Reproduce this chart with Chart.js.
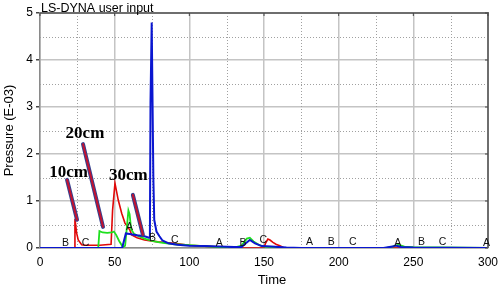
<!DOCTYPE html>
<html>
<head>
<meta charset="utf-8">
<script src="https://cdn.jsdelivr.net/npm/chart.js@4"></script>
<style>
  body { margin: 0; background: #fff; }
  #wrap { width: 498px; height: 285px; position: relative; }
</style>
</head>
<body>
<div id="wrap"><canvas id="pressureChart"></canvas></div>
<script>
// series (time, pressure E-03)
const redTime  = [0, 23, 23.4, 24.5, 25.6, 27.9, 30, 35, 40, 47.6, 48.6, 50.2, 52.4, 54.7, 56.9, 60.2, 61.4, 65, 70, 79, 90, 100, 110, 120, 128, 150, 151, 152.6, 154, 156, 158, 160.6, 163, 170, 300];
const redP     = [0, 0, 0.62, 0.32, 0.17, 0.07, 0.06, 0.06, 0.06, 0.08, 0.8, 1.38, 1.02, 0.74, 0.53, 0.38, 0.28, 0.22, 0.17, 0.13, 0.1, 0.06, 0.04, 0.02, 0, 0, 0.1, 0.19, 0.17, 0.12, 0.08, 0.05, 0.01, 0, 0];

const greenTime = [0, 39, 39.8, 42, 45, 48, 49.5, 51, 53, 55.5, 57, 58.2, 59.2, 60, 61, 63, 66, 70, 75, 80, 90, 100, 110, 120, 130, 135, 138.5, 140.5, 143, 147, 150, 160, 170, 232, 236, 240, 244, 250, 300];
const greenP    = [0, 0, 0.36, 0.33, 0.32, 0.33, 0.35, 0.28, 0.15, 0.02, 0.05, 0.45, 0.8, 0.72, 0.4, 0.3, 0.25, 0.2, 0.15, 0.12, 0.08, 0.06, 0.04, 0.02, 0.01, 0.05, 0.2, 0.22, 0.14, 0.06, 0.03, 0.01, 0, 0, 0.03, 0.07, 0.03, 0.02, 0];

const blueTime = [0, 55, 57.5, 60, 65, 70, 73, 73.6, 74.0, 74.8, 75.4, 75.9, 76.5, 78, 80, 82, 86, 92, 100, 110, 120, 130, 135, 137, 140.5, 144, 148.5, 155, 165, 175, 230, 236, 238, 242, 250, 300];
const blueP    = [0, 0, 0.31, 0.3, 0.27, 0.25, 0.22, 0.25, 3.1, 4.8, 3.0, 1.5, 0.6, 0.35, 0.25, 0.16, 0.1, 0.07, 0.05, 0.04, 0.03, 0.02, 0.02, 0.08, 0.17, 0.1, 0.04, 0.03, 0.01, 0, 0, 0.03, 0.05, 0.02, 0.01, 0];

// point labels along the curves
const letterText = ["B", "C", "A", "B", "C", "A", "B", "C", "A", "B", "C", "A", "B", "C", "A"];
const letterTime = [17, 30.5, 60, 75.3, 90.2, 120, 136, 149.5, 180.5, 195, 209.5, 239.5, 255.5, 269.5, 299];
const letterP    = [0.01, 0.01, 0.36, 0.13, 0.08, 0.02, 0.02, 0.08, 0.03, 0.03, 0.03, 0.02, 0.04, 0.03, 0.02];

// hand-drawn annotations: label + arrow line (data units)
const noteText   = ["10cm", "20cm", "30cm"];
const noteTime   = [19.1, 30.1, 59.2];
const noteP      = [1.6, 2.43, 1.53];
const arrowFrom  = [[18.1, 1.45], [28.8, 2.21], [62.2, 1.13]];
const arrowTo    = [[24.8, 0.6], [42.2, 0.45], [68.9, 0.28]];

const timeTicks = [0, 50, 100, 150, 200, 250, 300];
const pressureTicks = [0, 1, 2, 3, 4, 5];
const minorTime = [25, 75, 125, 175, 225, 275];
const minorP = [0.5, 1.5, 2.5, 3.5, 4.5];

function pts(t, p) {
  return t.map((v, i) => ({ x: v, y: p[i] }));
}

const decor = {
  id: "decor",
  beforeDatasetsDraw(chart) {
    const { ctx, chartArea: a, scales: { x, y } } = chart;
    ctx.save();
    ctx.strokeStyle = "#a0a0a0";
    ctx.lineWidth = 1;
    ctx.setLineDash([1, 2]);
    minorTime.forEach(v => {
      const px = Math.round(x.getPixelForValue(v)) + 0.5;
      ctx.beginPath(); ctx.moveTo(px, a.top); ctx.lineTo(px, a.bottom); ctx.stroke();
    });
    minorP.forEach(v => {
      const py = Math.round(y.getPixelForValue(v)) + 0.5;
      ctx.beginPath(); ctx.moveTo(a.left, py); ctx.lineTo(a.right, py); ctx.stroke();
    });
    ctx.restore();
  },
  afterDatasetsDraw(chart) {
    const { ctx, chartArea: a, scales: { x, y } } = chart;
    ctx.save();

    // frame
    ctx.strokeStyle = "#6e6e6e";
    ctx.lineWidth = 2;
    ctx.beginPath();
    ctx.moveTo(a.left, a.top); ctx.lineTo(a.right, a.top); ctx.lineTo(a.right, a.bottom);
    ctx.stroke();
    ctx.lineWidth = 1;
    ctx.strokeStyle = "#444";
    timeTicks.forEach(v => {
      const px = x.getPixelForValue(v);
      ctx.beginPath(); ctx.moveTo(px, a.top); ctx.lineTo(px, a.top + 3); ctx.stroke();
    });
    pressureTicks.forEach(v => {
      const py = y.getPixelForValue(v);
      ctx.beginPath(); ctx.moveTo(a.right, py); ctx.lineTo(a.right - 3, py); ctx.stroke();
    });

    // letters on curves
    ctx.fillStyle = "#111";
    ctx.font = "10.5px 'Liberation Sans', Arial, sans-serif";
    ctx.textAlign = "center";
    ctx.textBaseline = "bottom";
    letterText.forEach((s, i) => {
      ctx.fillText(s, x.getPixelForValue(letterTime[i]), y.getPixelForValue(letterP[i]) + 1);
    });

    // annotation arrows
    ctx.lineCap = "round";
    arrowFrom.forEach((f, i) => {
      const t = arrowTo[i];
      const x1 = x.getPixelForValue(f[0]), y1 = y.getPixelForValue(f[1]);
      const x2 = x.getPixelForValue(t[0]), y2 = y.getPixelForValue(t[1]);
      ctx.strokeStyle = "#34418f";
      ctx.lineWidth = 4;
      ctx.beginPath(); ctx.moveTo(x1, y1); ctx.lineTo(x2, y2); ctx.stroke();
      ctx.strokeStyle = "#c4122f";
      ctx.lineWidth = 2;
      ctx.beginPath(); ctx.moveTo(x1, y1); ctx.lineTo(x2, y2); ctx.stroke();
    });

    ctx.fillStyle = "#000";
    ctx.font = "bold 17px 'Liberation Serif', 'Times New Roman', serif";
    ctx.textBaseline = "middle";
    noteText.forEach((s, i) => {
      ctx.fillText(s, x.getPixelForValue(noteTime[i]), y.getPixelForValue(noteP[i]));
    });

    // titles
    ctx.font = "12.5px 'Liberation Sans', Arial, sans-serif";
    ctx.textAlign = "left";
    ctx.textBaseline = "alphabetic";
    ctx.fillText("LS-DYNA user input", a.left + 1, 11.5);

    ctx.font = "13px 'Liberation Sans', Arial, sans-serif";
    ctx.textAlign = "center";
    ctx.fillText("Time", (a.left + a.right) / 2 + 8, 284);
    ctx.restore();
  }
};

const ctxEl = document.getElementById("pressureChart");
new Chart(ctxEl, {
  type: "scatter",
  data: {
    datasets: [
      { label: "blue", data: pts(blueTime, blueP), borderColor: "#0a16d0", borderWidth: 2 },
      { label: "green", data: pts(greenTime, greenP), borderColor: "#1ee01e", borderWidth: 1.8 },
      { label: "red", data: pts(redTime, redP), borderColor: "#e00808", borderWidth: 1.6 }
    ].map(d => Object.assign(d, { showLine: true, pointRadius: 0, tension: 0, fill: false }))
  },
  options: {
    responsive: true,
    maintainAspectRatio: false,
    animation: false,
    layout: { padding: { top: 13, right: 10, left: 0, bottom: 0 } },
    plugins: { legend: { display: false }, tooltip: { enabled: false } },
    scales: {
      x: {
        type: "linear",
        min: 0, max: 300,
        afterBuildTicks: s => { s.ticks = timeTicks.map(v => ({ value: v })); },
        afterFit: s => { s.height = 37; s.paddingRight = 0; s.paddingLeft = 0; },
        grid: { color: "#c4c4c4", lineWidth: 1.5, drawTicks: false },
        border: { display: true, color: "#8a8a8a", width: 1.5 },
        ticks: { color: "#000", padding: 7, maxRotation: 0, font: { family: "'Liberation Sans', Arial, sans-serif", size: 12 } }
      },
      y: {
        min: 0, max: 5,
        afterBuildTicks: s => { s.ticks = pressureTicks.map(v => ({ value: v })); },
        afterFit: s => { s.width = 40; s.paddingTop = 0; s.paddingBottom = 0; },
        grid: { color: "#c4c4c4", lineWidth: 1.5, tickLength: 4, tickColor: "#444" },
        border: { display: true, color: "#8a8a8a", width: 1.5 },
        ticks: { color: "#000", padding: 3, font: { family: "'Liberation Sans', Arial, sans-serif", size: 12 } },
        title: {
          display: true,
          text: "Pressure (E-03)",
          color: "#000",
          padding: { top: 2, bottom: 0 },
          font: { family: "'Liberation Sans', Arial, sans-serif", size: 13 }
        }
      }
    }
  },
  plugins: [decor]
});
</script>
</body>
</html>
